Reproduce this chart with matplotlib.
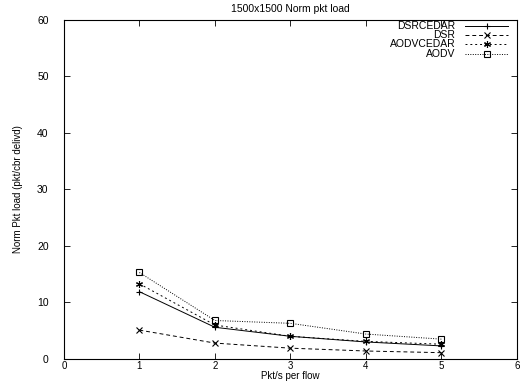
import matplotlib
matplotlib.use("Agg")
import matplotlib.pyplot as plt

rate = [1, 2, 3, 4, 5]
dsrcedar = [11.9, 5.6, 4.0, 3.0, 2.3]
dsr = [5.1, 2.8, 1.9, 1.4, 1.1]
aodvcedar = [13.3, 6.0, 4.0, 3.1, 2.6]
aodv = [15.3, 6.8, 6.3, 4.4, 3.5]

series = [
    ("DSRCEDAR", dsrcedar, "-", "+", "none"),
    ("DSR", dsr, (0, (4, 3)), "x", "none"),
    ("AODVCEDAR", aodvcedar, (0, (2, 3)), (6, 2, 0), "none"),
    ("AODV", aodv, (0, (1, 1.5)), "s", "none"),
]

plt.rcParams["font.family"] = ["Liberation Sans", "DejaVu Sans"]

fig = plt.figure(figsize=(5.28, 3.81), dpi=100)
ax = fig.add_axes([0.121, 0.058, 0.858, 0.8895])

for i, (name, ys, ls, mk, fc) in enumerate(series):
    ax.plot(rate, ys, color="black", linestyle=ls, linewidth=0.7,
            marker=mk, markersize=5, markerfacecolor=fc,
            markeredgecolor="black", markeredgewidth=0.8)
    # gnuplot-style key: label right-aligned, sample to its right
    yk = 0.982 - i * 0.027
    ax.text(0.864, yk, name, transform=ax.transAxes, ha="right",
            va="center", fontsize=7.5)
    ax.plot([0.886, 0.98], [yk, yk], transform=ax.transAxes,
            color="black", linestyle=ls, linewidth=0.7)
    ax.plot([0.933], [yk], transform=ax.transAxes, color="black",
            marker=mk, markersize=5, markerfacecolor=fc,
            markeredgecolor="black", markeredgewidth=0.8)

ax.set_xlim(0, 6)
ax.set_ylim(0, 60)
ax.set_xticks(range(0, 7))
ax.set_yticks(range(0, 61, 10))
ax.tick_params(direction="in", length=4, width=0.6, labelsize=7.5,
               top=True, right=True)
ax.tick_params(axis="x", pad=1.5, labelsize=7)
ax.tick_params(axis="y", pad=11)
for s in ax.spines.values():
    s.set_linewidth(0.8)

ax.set_title("1500x1500 Norm pkt load", fontsize=7.5, pad=6)
ax.set_xlabel("Pkt/s per flow", fontsize=7, labelpad=0)
ax.set_ylabel("Norm Pkt load (pkt/cbr delivd)", fontsize=7, labelpad=10)

fig.savefig("out.png", dpi=100)
